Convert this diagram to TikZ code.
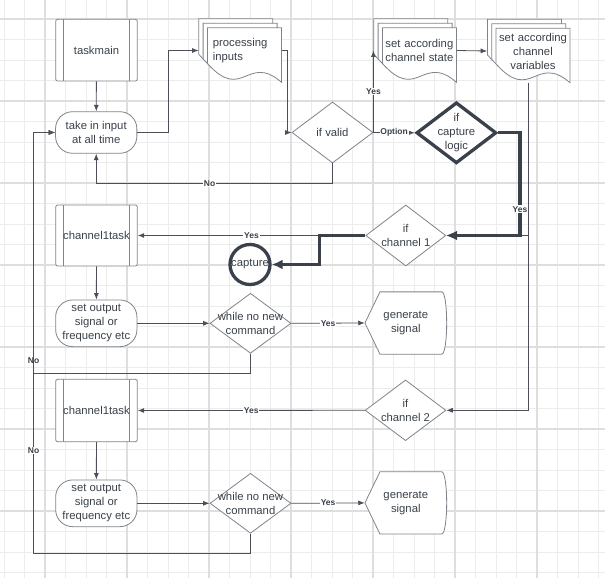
\documentclass[tikz,border=0pt]{standalone}
\usepackage{fontspec}
\setmainfont{Liberation Sans}
\usetikzlibrary{shapes.geometric,arrows.meta}

\definecolor{ink}{HTML}{3A414A}
\definecolor{shapegray}{HTML}{80848A}
\definecolor{linegray}{HTML}{4B5058}
\definecolor{minorgrid}{HTML}{ECECEC}
\definecolor{majorgrid}{HTML}{DEDEDE}

% Stack of three documents, centre of the stack at (#1,#2).
\newcommand{\docstack}[2]{%
  \foreach \d in {2,1,0}{%
    \pgfmathsetmacro{\xl}{#1-32.7-4.3*\d}%
    \pgfmathsetmacro{\yt}{#2-22.7-4.5*\d}%
    \filldraw[outline] (\xl,\yt) -- ++(74,0) -- ++(0,54.4)
      .. controls (\xl+40,\yt+25) and (\xl+35,\yt+75) .. (\xl,\yt+35.6) -- cycle;
  }}

% Display shape, centre at (#1,#2).
\newcommand{\displayshape}[2]{%
  \filldraw[outline] (#1-40.85,#2) -- (#1-25.85,#2-31.15) -- (#1+35.85,#2-31.15)
    .. controls +(6.7,0) and +(6.7,0) .. (#1+35.85,#2+31.15)
    -- (#1-25.85,#2+31.15) -- cycle;}

\begin{document}
\begin{tikzpicture}[x=1pt,y=-1pt,
    every node/.style={text=ink, font=\fontsize{11.3}{14}\selectfont},
    outline/.style={draw=shapegray, fill=white, line width=0.8pt},
    subproc/.style={outline, rounded corners=2pt, minimum width=81.6pt, minimum height=61.7pt,
      path picture={\draw[shapegray, line width=0.8pt]
        ([xshift=7.6pt]path picture bounding box.north west) -- ([xshift=7.6pt]path picture bounding box.south west)
        ([xshift=-7.6pt]path picture bounding box.north east) -- ([xshift=-7.6pt]path picture bounding box.south east);}},
    terminal/.style={outline, rounded corners=17pt, minimum width=81.3pt, inner sep=1pt, align=center},
    decision/.style={outline, diamond, inner sep=-30pt, minimum width=81pt, minimum height=61pt, align=center},
    docs/.style={minimum width=82.6pt, minimum height=63.4pt, inner sep=0pt, align=center},
    frontdoc/.style={docs, text width=82.6pt,
      execute at begin node={\leftskip=8.6pt plus 1fil\rightskip=0pt plus 1fil\parfillskip=0pt\relax}},
    screen/.style={minimum width=81.7pt, minimum height=62.3pt, inner sep=0pt, align=center},
    ring/.style={circle, draw=ink, fill=white, line width=3.3pt, minimum size=40pt, inner sep=0pt},
    conn/.style={draw=linegray, line width=0.8pt, -{Latex[length=6.5pt,width=5pt]}},
    boldconn/.style={draw=ink, line width=3.3pt, -{Latex[length=11pt,width=10pt]}},
    lbl/.style={fill=white, inner sep=0.8pt, font=\bfseries\fontsize{8.5}{10}\selectfont}]

    % Grid.
    \useasboundingbox (0,0) rectangle (605,578);
    \fill[white] (0,0) rectangle (605,578);
    \foreach \gx in {4,24.5,...,599} \draw[minorgrid, line width=0.8pt] (\gx,0) -- (\gx,578);
    \foreach \gy in {19,39.5,...,573} \draw[minorgrid, line width=0.8pt] (0,\gy) -- (605,\gy);
    \foreach \gx in {45,127,...,537} \draw[majorgrid, line width=1.1pt] (\gx,0) -- (\gx,578);
    \foreach \gy in {19,101,...,511} \draw[majorgrid, line width=1.1pt] (0,\gy) -- (605,\gy);

    % Top row.
    \node[subproc] (taskmain) at (96.5,50.2) {taskmain};
    \node[terminal, minimum height=41.6pt] (takein) at (96.2,132.5) {take in input\\at all time};
    \docstack{240.1}{50.5}
    \node[docs, align=left] (procin) at (240.1,50.5) {processing\\inputs};
    \node[decision] (valid) at (332.5,132.5) {if valid};
    \node[decision, draw=ink, line width=3.3pt, minimum width=80pt] (caplogic) at (456.4,132.8) {if\\capture\\logic};
    \docstack{415.1}{50.5}
    \node[frontdoc] (state) at (415.1,50.5) {set according\\channel state};
    \docstack{528.7}{51}
    \node[frontdoc] (vars) at (528.7,51) {set according\\channel\\variables};

    % Channel 1.
    \node[decision, minimum width=80pt] (ch1) at (405.8,235.5) {if\\channel 1};
    \node[subproc, minimum height=61pt] (task1) at (96.5,235.5) {channel1task};
    \node[ring] (capture) at (250,264.5) {capture};
    \node[terminal, minimum height=46.7pt] (setout1) at (96.3,323.3) {set output\\signal or\\frequency etc};
    \node[decision, minimum height=60pt] (while1) at (250.5,323.3) {while no new\\command};
    \displayshape{405.8}{323}
    \node[screen] (gen1) at (405.8,323) {generate\\signal};

    % Channel 2.
    \node[decision, minimum width=80.7pt, minimum height=60.7pt] (ch2) at (405.5,410.3) {if\\channel 2};
    \node[subproc, minimum height=62.4pt] (task2) at (96.5,410.5) {channel1task};
    \node[terminal, minimum height=46.7pt] (setout2) at (96.3,503.3) {set output\\signal or\\frequency etc};
    \node[decision, minimum height=60pt] (while2) at (250.5,503.3) {while no new\\command};
    \displayshape{405.8}{502.9}
    \node[screen] (gen2) at (405.8,502.9) {generate\\signal};

    % Arrows at the top.
    \draw[conn] (taskmain) -- (takein);
    \draw[conn] (takein.east) -- ++(31,0) |- (procin.west);
    \draw[conn] (procin.east) -- ++(5.5,0) |- (valid.west);
    \draw[conn] (valid.south) -- ++(0,20) -| node[lbl, pos=0.26] {No} (takein.south);
    \draw[conn] (valid.east) -- node[lbl] {Yes} (valid.east |- state.west);
    \draw[conn] (valid.east) -- node[lbl] {Option} (caplogic.west);
    \draw[conn] (state.east) -- (vars.west);
    \draw[conn] (vars.south) |- (ch1.east);
    \draw[conn] (vars.south) |- (ch2.east);
    \draw[boldconn] (caplogic.east) -- ++(22,0) |- node[lbl, pos=0.372] {Yes} (ch1.east);

    % Arrows for channel 1.
    \draw[conn] (ch1.west) -- node[lbl] {Yes} (task1.east);
    \draw[boldconn] (ch1.west) -- ++(-46,0) |- (capture.east);
    \draw[conn] (task1) -- (setout1);
    \draw[conn] (setout1) -- (while1);
    \draw[conn] (while1.east) -- node[lbl] {Yes} (gen1.west);
    \draw[conn] (while1.south) -- ++(0,19.5) -| node[lbl, pos=0.526] {No} ([xshift=-21.5pt]takein.west) -- (takein.west);

    % Arrows for channel 2.
    \draw[conn] (ch2.west) -- node[lbl] {Yes} (task2.east);
    \draw[conn] (task2) -- (setout2);
    \draw[conn] (setout2) -- (while2);
    \draw[conn] (while2.east) -- node[lbl] {Yes} (gen2.west);
    \draw[conn] (while2.south) -- ++(0,19.5) -| node[lbl, pos=0.622] {No} ([xshift=-21.5pt]takein.west) -- (takein.west);

\end{tikzpicture}
\end{document}
